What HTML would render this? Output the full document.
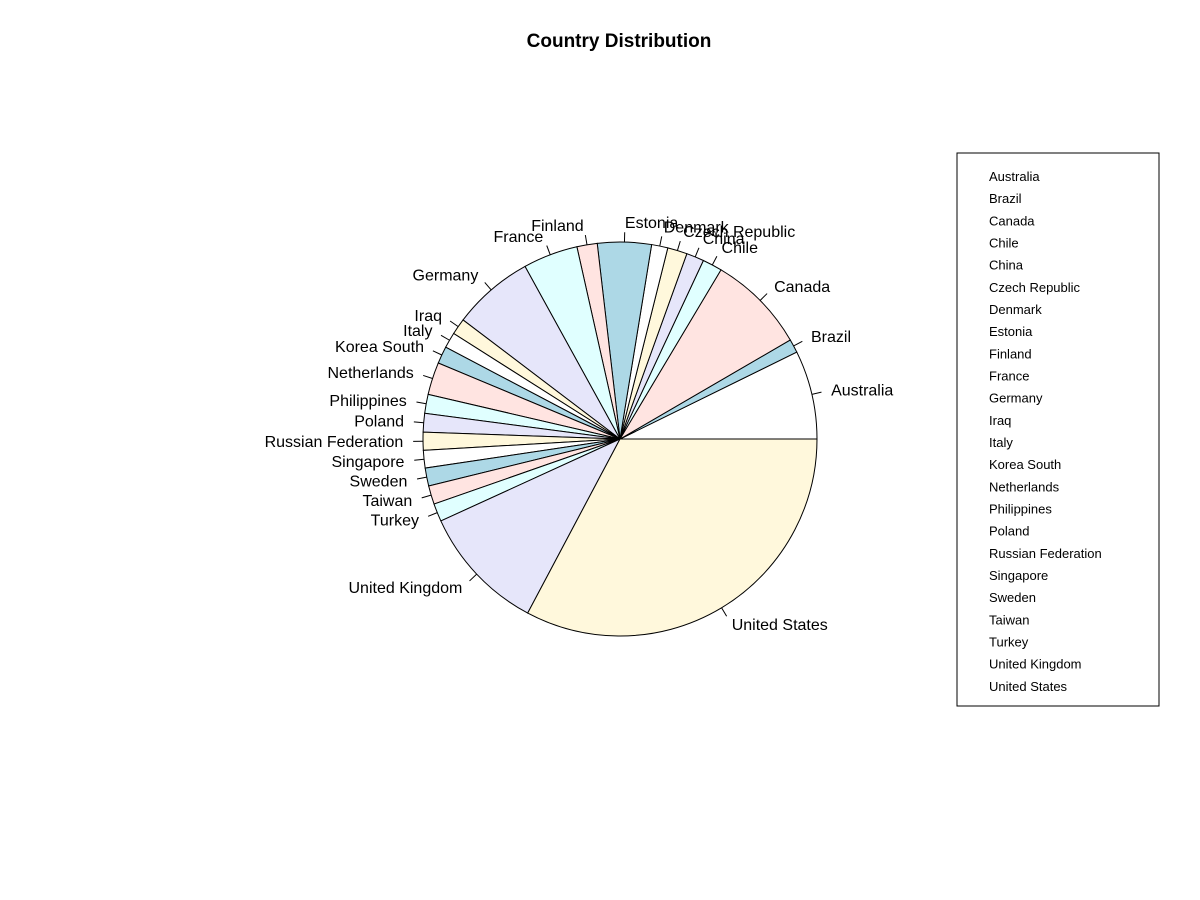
<!DOCTYPE html>
<html><head><meta charset="utf-8"><style>
body{margin:0;background:#fff;font-family:"Liberation Sans",Arial,sans-serif}
svg{display:block}
</style></head><body>
<svg id="chart" width="1200" height="900" viewBox="0 0 1200 900">
<text x="619" y="47" text-anchor="middle" font-size="19" font-weight="bold">Country Distribution</text>
<g id="slices"></g><g id="labels"></g>
<rect x="957" y="153" width="202" height="553" fill="none" stroke="#000"/>
<g id="legend"></g>
</svg>
<script>
const categories=["Australia","Brazil","Canada","Chile","China","Czech Republic","Denmark","Estonia","Finland","France","Germany","Iraq","Italy","Korea South","Netherlands","Philippines","Poland","Russian Federation","Singapore","Sweden","Taiwan","Turkey","United Kingdom","United States"];
const values=[26.2,4.0,29.0,5.8,5.2,5.8,4.8,15.9,6.0,16.2,24.0,4.8,4.6,5.1,9.6,5.6,5.5,5.3,5.2,5.3,5.5,5.3,37.5,118];
const palette=["#ffffff","#add8e6","#ffe4e1","#e0ffff","#e6e6fa","#fff8dc"];
const NS="http://www.w3.org/2000/svg";
const cx=620,cy=439,R=197;
const total=values.reduce((a,b)=>a+b,0);
const gS=document.getElementById('slices'),gL=document.getElementById('labels'),gG=document.getElementById('legend');
function pt(a,r){return [cx+r*Math.cos(a),cy-r*Math.sin(a)];}
let acc=0;
values.forEach((v,i)=>{
  const a0=acc/total*2*Math.PI; acc+=v; const a1=acc/total*2*Math.PI;
  const p0=pt(a0,R),p1=pt(a1,R);
  const large=(a1-a0)>Math.PI?1:0;
  const path=document.createElementNS(NS,'path');
  path.setAttribute('d',`M${cx},${cy}L${p0[0]},${p0[1]}A${R},${R} 0 ${large} 0 ${p1[0]},${p1[1]}Z`);
  path.setAttribute('fill',palette[i%6]);path.setAttribute('stroke','#000');path.setAttribute('stroke-width','1');
  
  
  gS.appendChild(path);
  const am=(a0+a1)/2;
  const q0=pt(am,R),q1=pt(am,R*1.05),q2=pt(am,R*1.1);
  const ln=document.createElementNS(NS,'line');
  ln.setAttribute('x1',q0[0]);ln.setAttribute('y1',q0[1]);ln.setAttribute('x2',q1[0]);ln.setAttribute('y2',q1[1]);
  ln.setAttribute('stroke','#000');
  
  
  gL.appendChild(ln);
  const t=document.createElementNS(NS,'text');
  t.setAttribute('x',q2[0]);t.setAttribute('y',q2[1]+5.5);
  t.setAttribute('font-size','16');
  t.setAttribute('text-anchor',Math.cos(am)>0?'start':'end');
  t.textContent=categories[i];
  
  
  gL.appendChild(t);
  const lt=document.createElementNS(NS,'text');
  lt.setAttribute('x',989);lt.setAttribute('y',181+i*22.17);lt.setAttribute('font-size','13');
  lt.textContent=categories[i];
  
  
  gG.appendChild(lt);
});
</script>
</body></html>
